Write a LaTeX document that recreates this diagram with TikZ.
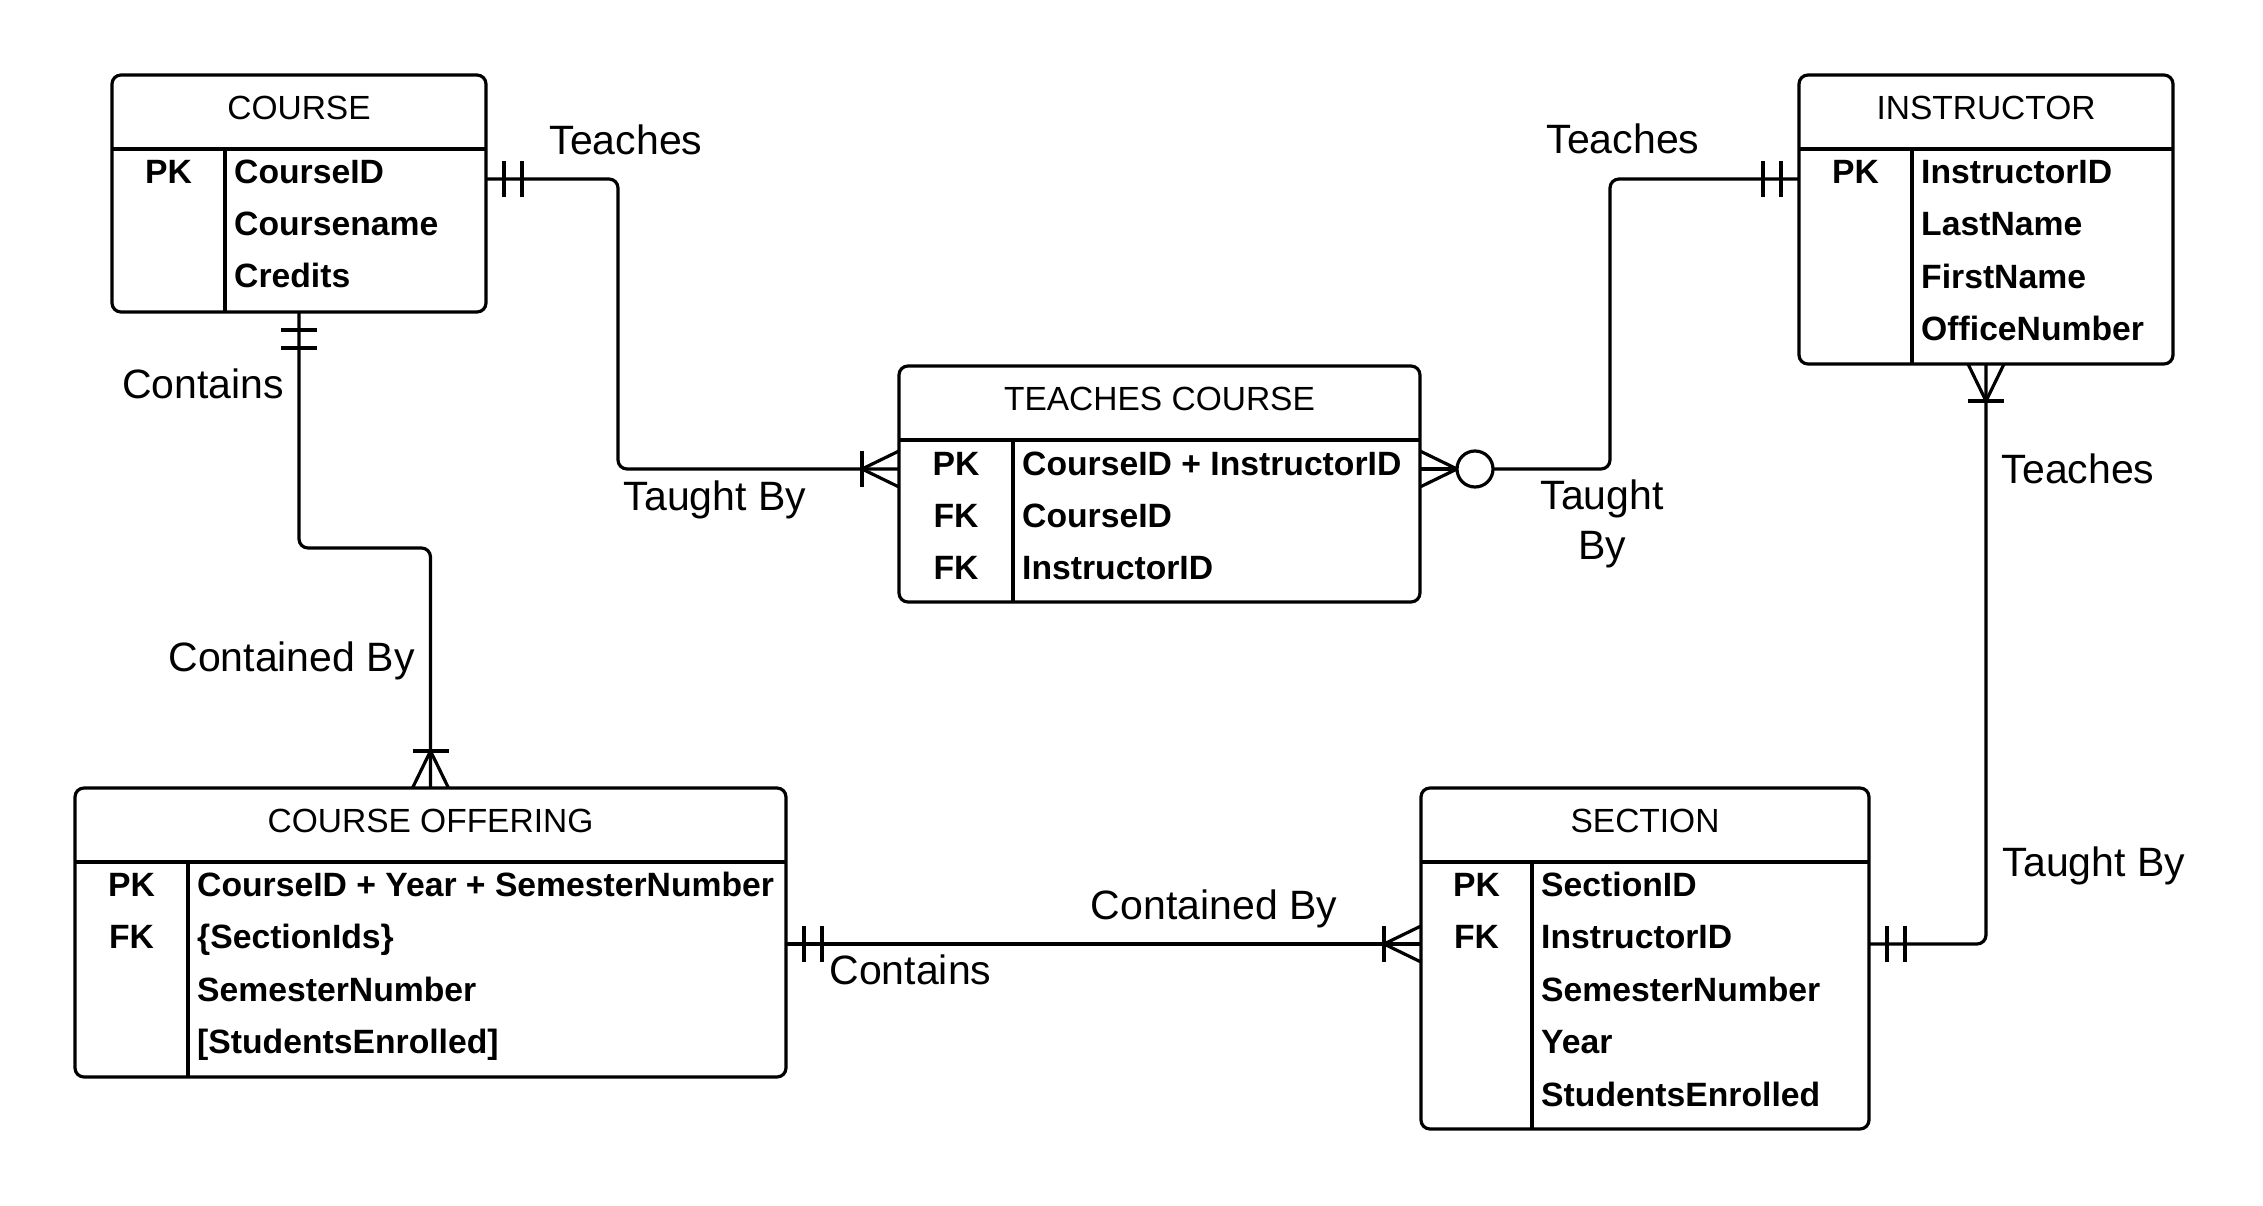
\documentclass[tikz,border=0pt]{standalone}
\usepackage{fontspec}
\setmainfont{Liberation Sans}
\usetikzlibrary{calc}
\begin{document}
\begin{tikzpicture}[x=1pt,y=-1pt,
 ebox/.style={draw, line width=3.2pt, rounded corners=9pt, inner sep=0pt, outer sep=0pt, fill=white},
 eline/.style={line width=3.2pt},
 etitle/.style={anchor=base, font=\fontsize{33.5}{40}\selectfont, inner sep=0pt},
 ekey/.style={anchor=base, font=\bfseries\fontsize{33.7}{40}\selectfont, inner sep=0pt},
 efield/.style={anchor=base west, font=\bfseries\fontsize{33.7}{40}\selectfont, inner sep=0pt},
 rlabel/.style={anchor=base, font=\fontsize{41}{49.5}\selectfont, inner sep=0pt},
 conn/.style={line width=3.2pt, rounded corners=9pt},
 tick/.style={line width=3.2pt}]
\useasboundingbox[fill=white] (0,0) rectangle (2263,1206);

% ---------- COURSE ----------
\node[ebox, minimum width=374pt, minimum height=237pt] (course) at (299,193.5) {};
\draw[eline] ($(course.north west)+(0,74)$) -- ($(course.north east)+(0,74)$);
\draw[eline] ($(course.north west)+(113,74)$) -- ($(course.south west)+(113,0)$);
\node[etitle] (course-t) at (299,120) {COURSE};
\node[ekey] (course-k1) at (168.5,184) {PK};
\node[efield] (course-f1) at (234,184) {CourseID};
\node[efield] (course-f2) at (234,236) {Coursename};
\node[efield] (course-f3) at (234,288) {Credits};

% ---------- INSTRUCTOR ----------
\node[ebox, minimum width=374pt, minimum height=289pt] (instr) at (1986,219.5) {};
\draw[eline] ($(instr.north west)+(0,74)$) -- ($(instr.north east)+(0,74)$);
\draw[eline] ($(instr.north west)+(113,74)$) -- ($(instr.south west)+(113,0)$);
\node[etitle] (instr-t) at (1986,120) {INSTRUCTOR};
\node[ekey] (instr-k1) at (1855.5,184) {PK};
\node[efield] (instr-f1) at (1921,184) {InstructorID};
\node[efield] (instr-f2) at (1921,236) {LastName};
\node[efield] (instr-f3) at (1921,288.5) {FirstName};
\node[efield] (instr-f4) at (1921,341) {OfficeNumber};

% ---------- TEACHES COURSE ----------
\node[ebox, minimum width=521pt, minimum height=236pt] (tc) at (1159.5,484) {};
\draw[eline] ($(tc.north west)+(0,74)$) -- ($(tc.north east)+(0,74)$);
\draw[eline] ($(tc.north west)+(114,74)$) -- ($(tc.south west)+(114,0)$);
\node[etitle] (tc-t) at (1159.5,410) {TEACHES COURSE};
\node[ekey] (tc-k1) at (956,475) {PK};
\node[ekey] (tc-k2) at (956,527) {FK};
\node[ekey] (tc-k3) at (956,579) {FK};
\node[efield] (tc-f1) at (1022,475) {CourseID + InstructorID};
\node[efield] (tc-f2) at (1022,527) {CourseID};
\node[efield] (tc-f3) at (1022,579) {InstructorID};

% ---------- COURSE OFFERING ----------
\node[ebox, minimum width=711pt, minimum height=289pt] (co) at (430.5,932.5) {};
\draw[eline] ($(co.north west)+(0,74)$) -- ($(co.north east)+(0,74)$);
\draw[eline] ($(co.north west)+(113,74)$) -- ($(co.south west)+(113,0)$);
\node[etitle] (co-t) at (430.5,832) {COURSE OFFERING};
\node[ekey] (co-k1) at (131.5,896) {PK};
\node[ekey] (co-k2) at (131.5,948) {FK};
\node[efield] (co-f1) at (197,896) {CourseID + Year + SemesterNumber};
\node[efield] (co-f2) at (197,948) {\{SectionIds\}};
\node[efield] (co-f3) at (197,1001) {SemesterNumber};
\node[efield] (co-f4) at (197,1053) {[StudentsEnrolled]};

% ---------- SECTION ----------
\node[ebox, minimum width=448pt, minimum height=341pt] (section) at (1645,958.5) {};
\draw[eline] ($(section.north west)+(0,74)$) -- ($(section.north east)+(0,74)$);
\draw[eline] ($(section.north west)+(111,74)$) -- ($(section.south west)+(111,0)$);
\node[etitle] (section-t) at (1645,832) {SECTION};
\node[ekey] (section-k1) at (1476.5,896) {PK};
\node[ekey] (section-k2) at (1476.5,948) {FK};
\node[efield] (section-f1) at (1541,896) {SectionID};
\node[efield] (section-f2) at (1541,948) {InstructorID};
\node[efield] (section-f3) at (1541,1001) {SemesterNumber};
\node[efield] (section-f4) at (1541,1053) {Year};
\node[efield] (section-f5) at (1541,1106) {StudentsEnrolled};

% ---------- C1: COURSE -- TEACHES COURSE ----------
\coordinate (c1s) at ($(course.north east)+(0,104)$);
\coordinate (c1e) at ($(tc.north west)+(0,103)$);
\draw[conn] (c1s) -- ++(132,0) |- (c1e);
\draw[tick] ($(c1s)+(18,-18)$) -- ++(0,36);
\draw[tick] ($(c1s)+(36,-18)$) -- ++(0,36);
\draw[tick] ($(c1e)+(-37,-18)$) -- ++(0,36);
\draw[tick] ($(c1e)+(0,-18)$) -- ($(c1e)+(-37,0)$) -- ($(c1e)+(0,18)$);
\node[rlabel] (l1a) at (626,155) {Teaches};
\node[rlabel] (l1b) at (715,510) {Taught By};

% ---------- C2: INSTRUCTOR -- TEACHES COURSE ----------
\coordinate (c2s) at ($(instr.north west)+(0,104)$);
\coordinate (c2e) at ($(tc.north east)+(0,103)$);
\draw[conn] (c2s) -- ++(-189,0) |- ($(c2e)+(73,0)$);
\draw[tick] ($(c2s)+(-18,-18)$) -- ++(0,36);
\draw[tick] ($(c2s)+(-36,-18)$) -- ++(0,36);
\draw[tick] (c2e) -- ++(37,0);
\draw[tick] ($(c2e)+(0,-18)$) -- ($(c2e)+(37,0)$) -- ($(c2e)+(0,18)$);
\draw[tick, fill=white] ($(c2e)+(55,0)$) circle[radius=18pt];
\node[rlabel] (l2a) at (1623,154) {Teaches};
\node[rlabel, anchor=center, align=center] (l2b) at (1602,524) {Taught\\By};

% ---------- C3: COURSE -- COURSE OFFERING ----------
\draw[conn] (course.south) -- ++(0,236) -| (co.north);
\draw[tick] ($(course.south)+(-18,18)$) -- ++(36,0);
\draw[tick] ($(course.south)+(-18,36)$) -- ++(36,0);
\draw[tick] ($(co.north)+(-18,-37)$) -- ++(36,0);
\draw[tick] ($(co.north)+(-18,0)$) -- ($(co.north)+(0,-37)$) -- ($(co.north)+(18,0)$);
\node[rlabel] (l3a) at (203,398) {Contains};
\node[rlabel] (l3b) at (291.5,671) {Contained By};

% ---------- C4: INSTRUCTOR -- SECTION ----------
\coordinate (c4e) at ($(section.north east)+(0,156)$);
\draw[conn] (instr.south) |- (c4e);
\draw[tick] ($(instr.south)+(-18,0)$) -- ($(instr.south)+(0,37)$) -- ($(instr.south)+(18,0)$);
\draw[tick] ($(instr.south)+(-18,37)$) -- ++(36,0);
\draw[tick] ($(c4e)+(18,-18)$) -- ++(0,36);
\draw[tick] ($(c4e)+(36,-18)$) -- ++(0,36);
\node[rlabel] (l4a) at (2078,483) {Teaches};
\node[rlabel] (l4b) at (2094,876) {Taught By};

% ---------- C5: COURSE OFFERING -- SECTION ----------
\coordinate (c5s) at ($(co.north east)+(0,156)$);
\coordinate (c5e) at ($(section.north west)+(0,156)$);
\draw[conn] (c5s) -- (c5e);
\draw[tick] ($(c5s)+(18,-18)$) -- ++(0,36);
\draw[tick] ($(c5s)+(36,-18)$) -- ++(0,36);
\draw[tick] ($(c5e)+(-37,-18)$) -- ++(0,36);
\draw[tick] ($(c5e)+(0,-18)$) -- ($(c5e)+(-37,0)$) -- ($(c5e)+(0,18)$);
\node[rlabel] (l5a) at (1214,919) {Contained By};
\node[rlabel] (l5b) at (910.5,984) {Contains};
\end{tikzpicture}
\end{document}
